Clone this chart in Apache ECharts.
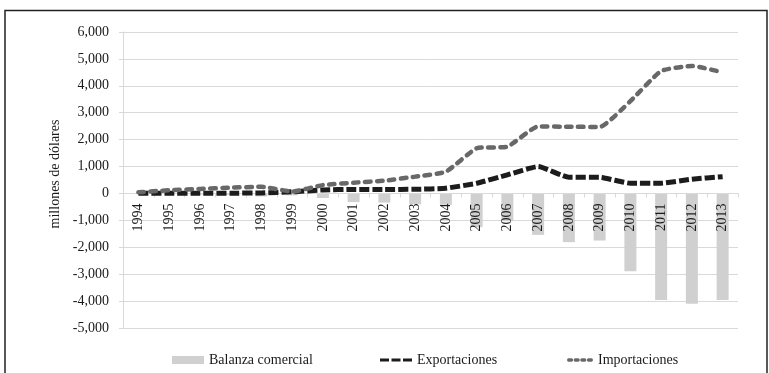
<!DOCTYPE html>
<html>
<head>
<meta charset="utf-8">
<script src="https://cdn.jsdelivr.net/npm/echarts@6/dist/echarts.min.js"></script>
<style>
html,body{margin:0;padding:0;background:#fff;}
#c{width:769px;height:373px;}
</style>
</head>
<body>
<div id="c"></div>
<script>
var years = ['1994','1995','1996','1997','1998','1999','2000','2001','2002','2003','2004','2005','2006','2007','2008','2009','2010','2011','2012','2013'];
var balanza = [-20, -30, -40, -50, -110, -70, -170, -320, -340, -400, -420, -1250, -1030, -1540, -1810, -1750, -2890, -3960, -4100, -3960];
var exportaciones = [10, 10, 10, 10, 20, 60, 130, 150, 150, 155, 195, 380, 690, 1000, 600, 600, 380, 380, 530, 625];
var importaciones = [45, 120, 170, 215, 250, 70, 310, 400, 475, 625, 810, 1680, 1740, 2490, 2480, 2470, 3430, 4550, 4740, 4500];
var yTicks = [-5000, 6000, 1000];

var FONT = '"Liberation Serif", "DejaVu Serif", serif';
var chart = echarts.init(document.getElementById('c'), null, {renderer: 'canvas'});

function fmt(v) {
  var s = Math.abs(v).toString().replace(/\B(?=(\d{3})+(?!\d))/g, ',');
  return (v < 0 ? '-' : '') + s;
}

var legendText = {fontFamily: FONT, fontSize: 14, color: '#1a1a1a'};
var gridTop = 32, gridBottom = 45, H = 373;
var plotH = H - gridTop - gridBottom;
var zeroOffset = -(plotH * (0 - yTicks[0]) / (yTicks[1] - yTicks[0]));

var dashIcon = 'path://M0,0h9v3h-9z M11.5,0h9v3h-9z M23,0h9v3h-9z';
function dot(x0) {
  return 'M' + (x0 + 1.75) + ',0h3a1.75,1.75 0 0 1 0,3.5h-3a1.75,1.75 0 0 1 0,-3.5z ';
}
var dotIcon = 'path://' + dot(0) + dot(7) + dot(14) + dot(21);

chart.setOption({
  animation: false,
  backgroundColor: '#fff',
  grid: {left: 123, right: 31, top: gridTop, bottom: gridBottom, containLabel: false},
  legend: [
    {data: [{name: 'Balanza comercial', icon: 'rect'}], left: 167, top: 348, itemWidth: 32, itemHeight: 8, textStyle: legendText},
    {data: [{name: 'Exportaciones', icon: dashIcon}], left: 375, top: 348, itemWidth: 32, itemHeight: 3, textStyle: legendText},
    {data: [{name: 'Importaciones', icon: dotIcon}], left: 562, top: 348, itemWidth: 26, itemHeight: 3.5, textStyle: legendText}
  ],
  xAxis: {
    type: 'category',
    data: years,
    offset: zeroOffset,
    z: 5,
    axisLine: {onZero: false, lineStyle: {color: '#d9d9d9', width: 1}},
    axisTick: {show: true, length: 4, lineStyle: {color: '#d9d9d9'}},
    axisLabel: {rotate: 90, margin: 10, fontFamily: FONT, fontSize: 14, color: '#1a1a1a', interval: 0},
    splitLine: {show: false}
  },
  yAxis: {
    type: 'value',
    min: yTicks[0], max: yTicks[1], interval: yTicks[2],
    axisLine: {show: true, lineStyle: {color: '#d9d9d9'}},
    axisTick: {show: true, length: 4, lineStyle: {color: '#d9d9d9'}},
    axisLabel: {formatter: fmt, margin: 14, fontFamily: FONT, fontSize: 14, color: '#1a1a1a'},
    splitLine: {lineStyle: {color: '#d9d9d9', width: 1}}
  },
  graphic: [
    {type: 'rect', shape: {x: 5, y: 10.5, width: 762, height: 372}, style: {fill: 'none', stroke: '#222', lineWidth: 1.5}, silent: true, z: 100},
    {type: 'text', x: 55, y: 174, rotation: Math.PI / 2, style: {text: 'millones de dólares', fontFamily: FONT, fontSize: 14, fill: '#1a1a1a', textAlign: 'center', textVerticalAlign: 'middle'}}
  ],
  series: [
    {
      name: 'Balanza comercial', type: 'bar', data: balanza, barWidth: 12,
      itemStyle: {color: '#d0d0d0'}, z: 1
    },
    {
      name: 'Exportaciones', type: 'line', data: exportaciones, symbol: 'none', smooth: 0.15,
      lineStyle: {color: '#1c1c1c', width: 5, type: [10, 3]},
      itemStyle: {color: '#1c1c1c'}, z: 11
    },
    {
      name: 'Importaciones', type: 'line', data: importaciones, symbol: 'none', smooth: 0.15,
      lineStyle: {color: '#686868', width: 4.5, type: [5.5, 6.5], cap: 'round'},
      itemStyle: {color: '#686868'}, z: 12
    }
  ]
});
</script>
</body>
</html>
